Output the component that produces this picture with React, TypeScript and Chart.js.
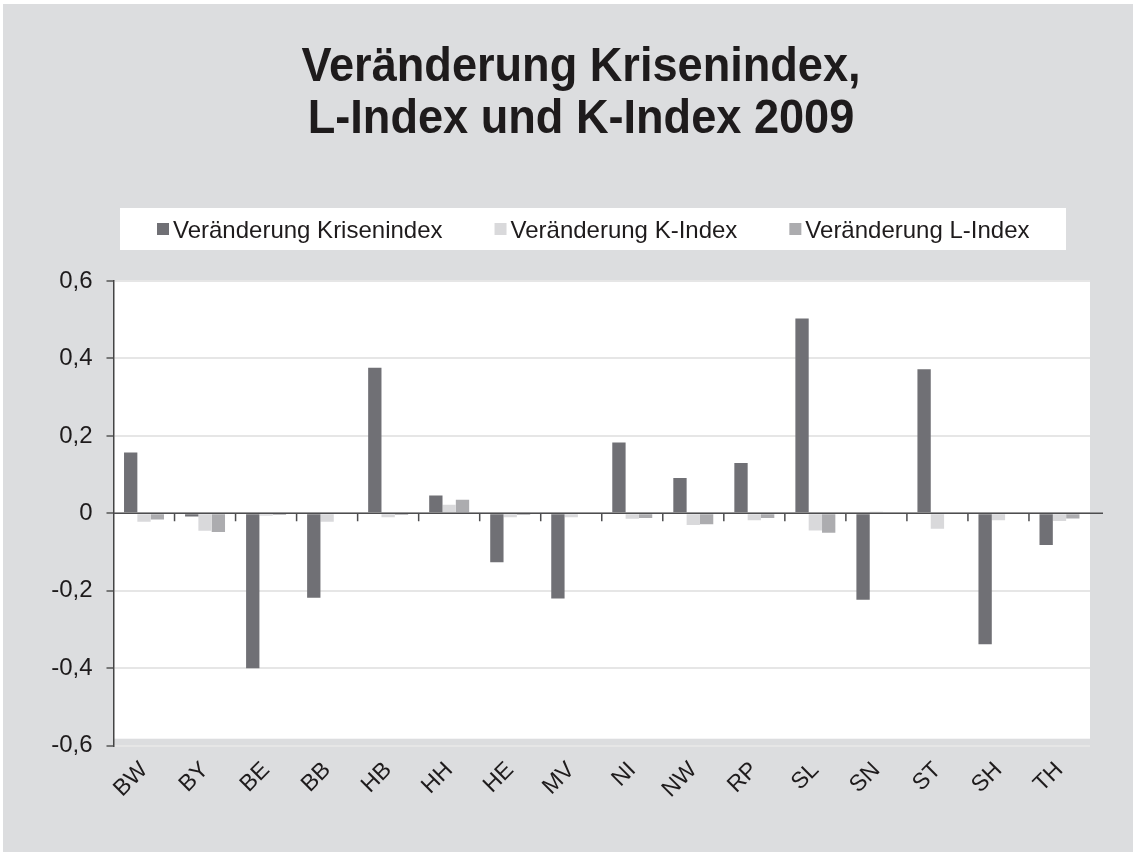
import React, { useEffect, useRef } from "react";
import { Chart, registerables } from "chart.js";

Chart.register(...registerables);

const categories = ["BW", "BY", "BE", "BB", "HB", "HH", "HE", "MV", "NI", "NW", "RP", "SL", "SN", "ST", "SH", "TH"];
const krisenindex = [0.157, -0.008, -0.4, -0.218, 0.376, 0.046, -0.126, -0.22, 0.183, 0.091, 0.13, 0.503, -0.223, 0.372, -0.338, -0.082];
const kIndex = [-0.022, -0.045, -0.006, -0.022, -0.01, 0.022, -0.01, -0.01, -0.014, -0.03, -0.018, -0.044, 0.004, -0.04, -0.018, -0.02];
const lIndex = [-0.016, -0.048, -0.004, 0, -0.004, 0.035, -0.004, 0, -0.012, -0.028, -0.012, -0.05, 0, 0, 0, -0.013];
const seriesNames = ["Veränderung Krisenindex", "Veränderung K-Index", "Veränderung L-Index"];
const seriesColors = ["#707075", "#d9d9db", "#acacaf"];
const titleLines = ["Veränderung Krisenindex,", "L-Index und K-Index 2009"];
const yMin = -0.6;
const yMax = 0.6;
const yStep = 0.2;

const FONT = '"Liberation Sans", Arial, Helvetica, sans-serif';
const TEXT = "#1e1b1c";

const decorPlugin = {
  id: "decor",
  beforeDraw(chart: any) {
    const { ctx, chartArea: a } = chart;
    ctx.save();
    ctx.fillStyle = "#ffffff";
    ctx.fillRect(0, 0, chart.width, chart.height);
    ctx.fillStyle = "#dcdddf";
    ctx.fillRect(3, 4, chart.width - 6, chart.height - 7);
    // plot area
    ctx.fillStyle = "#ffffff";
    ctx.fillRect(a.left, a.top, a.right - a.left, a.bottom - a.top - 7);
    // legend box
    ctx.fillRect(120, 208, 946, 42);
    // title (slightly condensed)
    ctx.save();
    ctx.fillStyle = TEXT;
    ctx.font = `bold 48px ${FONT}`;
    ctx.textAlign = "center";
    ctx.textBaseline = "alphabetic";
    ctx.translate(581, 0);
    ctx.scale(0.94, 1);
    ctx.fillText(titleLines[0], 0, 81);
    ctx.fillText(titleLines[1], 0, 133);
    ctx.restore();
    // legend
    ctx.font = `24px ${FONT}`;
    ctx.textAlign = "left";
    ctx.textBaseline = "alphabetic";
    let x = 157;
    chart.data.datasets.forEach((ds: any) => {
      ctx.fillStyle = ds.backgroundColor;
      ctx.fillRect(x, 223, 12, 12);
      ctx.fillStyle = TEXT;
      ctx.fillText(ds.label, x + 16, 238);
      x += 16 + ctx.measureText(ds.label).width + 52;
    });
    ctx.restore();
  },
  afterDatasetsDraw(chart: any) {
    const { ctx, chartArea: a, scales } = chart;
    const y0 = scales.y.getPixelForValue(0);
    const xs = scales.x;
    ctx.save();
    ctx.strokeStyle = "#4d4d4f";
    ctx.lineWidth = 1.5;
    ctx.beginPath();
    ctx.moveTo(a.left, y0);
    ctx.lineTo(a.right + 13, y0);
    for (let i = 1; i < categories.length; i++) {
      const bx = (xs.getPixelForTick(i - 1) + xs.getPixelForTick(i)) / 2;
      ctx.moveTo(bx, y0);
      ctx.lineTo(bx, y0 + 8);
    }
    ctx.stroke();
    ctx.restore();
  },
};

export default function App() {
  const ref = useRef<HTMLCanvasElement>(null);

  useEffect(() => {
    if (!ref.current) return;
    const values = [krisenindex, kIndex, lIndex];
    const chart = new Chart(ref.current, {
      type: "bar",
      data: {
        labels: categories,
        datasets: seriesNames.map((name, i) => ({
          label: name,
          data: values[i],
          backgroundColor: seriesColors[i],
          borderWidth: 0,
          barPercentage: 1,
          categoryPercentage: 0.655,
        })),
      },
      options: {
        responsive: false,
        animation: false,
        devicePixelRatio: 1,
        layout: { padding: { top: 281, right: 46, bottom: 0, left: 0 } },
        plugins: {
          legend: { display: false },
          title: { display: false },
          tooltip: { enabled: false },
        },
        scales: {
          x: {
            offset: true,
            grid: { display: false },
            border: { display: false },
            ticks: {
              autoSkip: false,
              maxRotation: 45,
              minRotation: 45,
              padding: 3,
              color: TEXT,
              font: { family: FONT, size: 23 },
            },
            afterFit: (s: any) => {
              s.height = 109.3;
            },
          },
          y: {
            min: yMin,
            max: yMax,
            ticks: {
              stepSize: yStep,
              padding: 14,
              color: TEXT,
              font: { family: FONT, size: 24 },
              callback: (v: any) => {
                const r = Math.round(Number(v) * 10) / 10;
                return r === 0 ? "0" : r.toFixed(1).replace(".", ",");
              },
            },
            grid: {
              color: "#e6e6e6",
              lineWidth: 2,
              tickLength: 7,
              tickColor: "#555555",
              tickWidth: 1.5,
            },
            border: { display: true, color: "#444444", width: 1.5 },
            afterFit: (s: any) => {
              s.width = 113.5;
            },
          },
        },
      },
      plugins: [decorPlugin],
    });
    return () => chart.destroy();
  }, []);

  return (
    <div style={{ position: "absolute", left: 0, top: 0, width: 1136, height: 855 }}>
      <canvas ref={ref} width={1136} height={855} style={{ display: "block" }} />
    </div>
  );
}
